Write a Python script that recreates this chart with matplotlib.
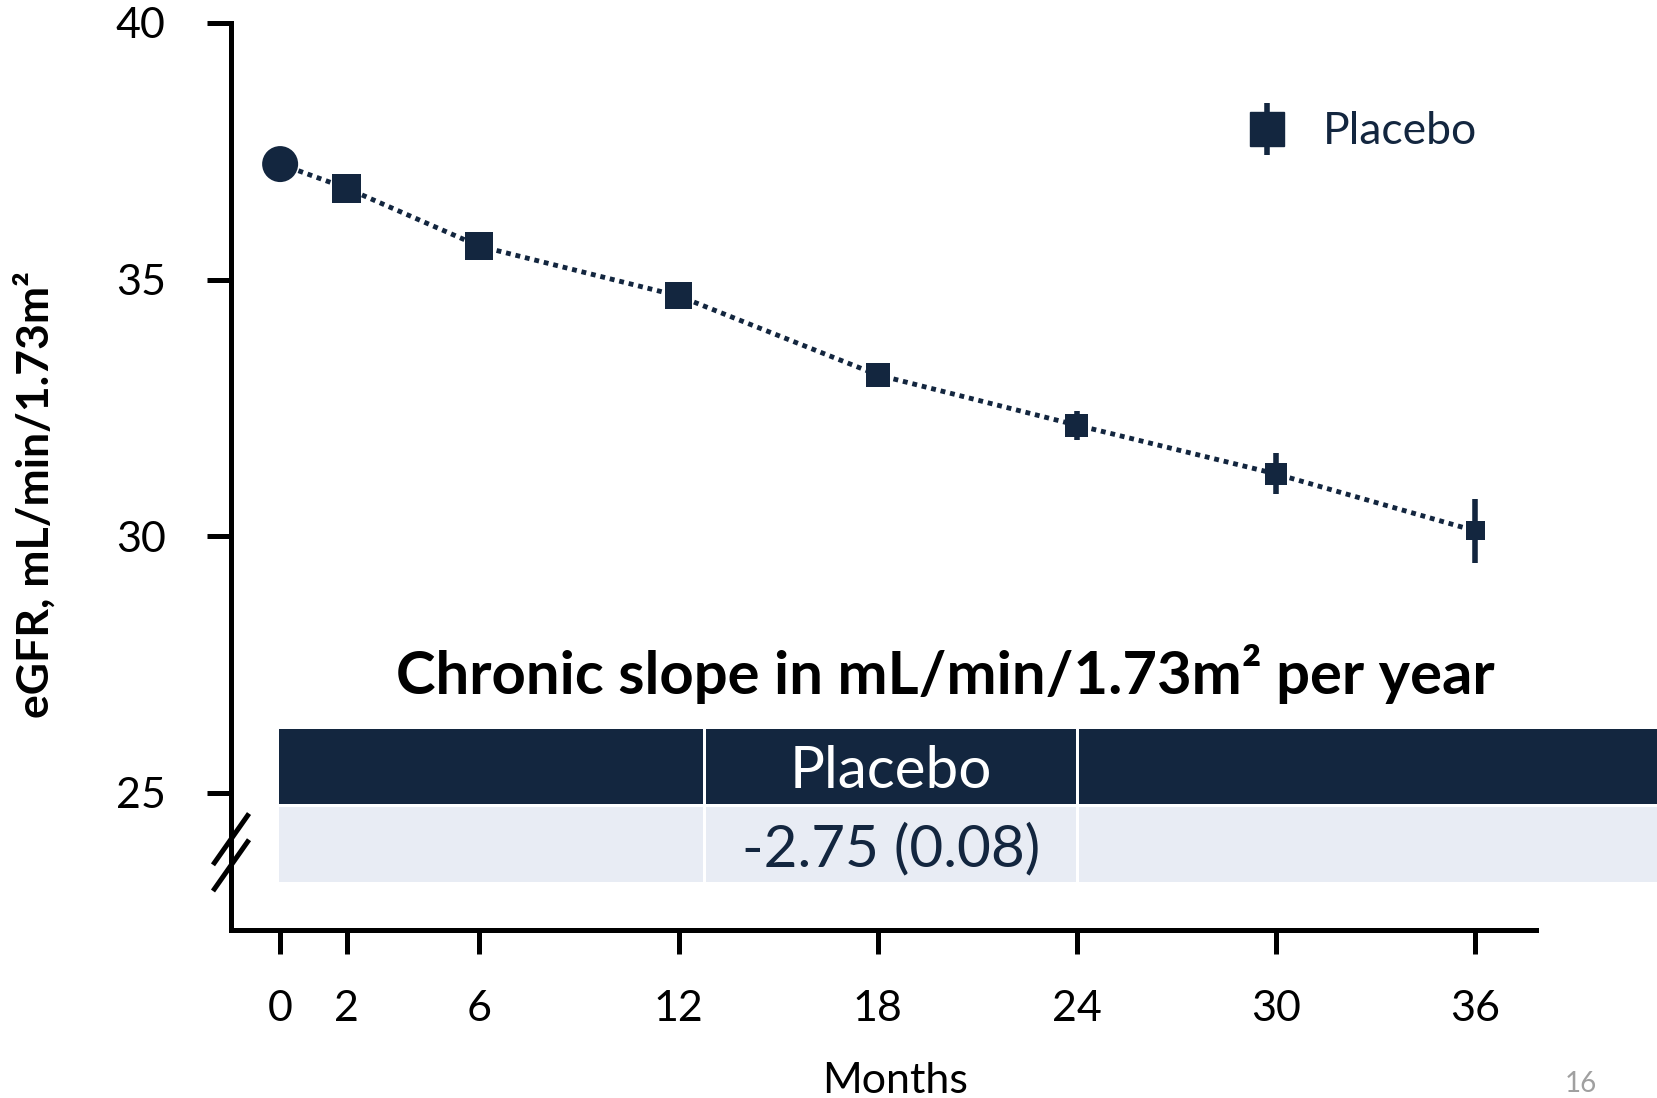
import matplotlib
matplotlib.use("Agg")
import matplotlib.pyplot as plt
from matplotlib.lines import Line2D
from matplotlib.patches import Rectangle
import matplotlib.transforms as mtransforms

plt.rcParams['font.family'] = ['Lato', 'DejaVu Sans']

# data
months = [0, 2, 6, 12, 18, 24, 30, 36]
egfr = [37.25, 36.78, 35.65, 34.68, 33.14, 32.16, 31.21, 30.10]
sem = [0.0, 0.08, 0.08, 0.10, 0.15, 0.28, 0.40, 0.63]
month_ticks = [0, 2, 6, 12, 18, 24, 30, 36]
egfr_ticks = [25, 30, 35, 40]
table_header = ["", "Placebo", ""]
table_values = ["", "-2.75 (0.08)", ""]

navy = '#13263f'
light = '#e8ecf4'
marker_px = [36, 29, 28, 27, 24, 23, 22, 19]   # style: marker size in pixels
marker_shape = ['o', 's', 's', 's', 's', 's', 's', 's']

fig = plt.figure(figsize=(16.58, 10.98), dpi=100)
ax = fig.add_axes([231 / 1658, 1 - 930 / 1098, (1536 - 231) / 1658, (930 - 23) / 1098])

ax.plot(months, egfr, color=navy, lw=3.5, linestyle=(0, (1, 1)), zorder=2)
ax.errorbar(months, egfr, yerr=sem, fmt='none', ecolor=navy, elinewidth=4, capsize=0, zorder=3)
for x, y, m, px in zip(months, egfr, marker_shape, marker_px):
    ax.scatter([x], [y], marker=m, s=(px * 0.72) ** 2, color=navy, edgecolors='none', zorder=4)

ax.set_xlim(-1.48, 37.83)
ax.set_ylim(22.32, 40)
ax.set_xticks(month_ticks)
ax.set_yticks(egfr_ticks)
ax.tick_params(axis='both', width=3.6, length=17, labelsize=31, color='black')
ax.tick_params(axis='y', pad=30)
ax.tick_params(axis='x', pad=26)
for s in ['top', 'right']:
    ax.spines[s].set_visible(False)
for s in ['left', 'bottom']:
    ax.spines[s].set_linewidth(3.6)

ax.set_xlabel("Months", fontsize=31)
ax.xaxis.set_label_coords(0.5 + 12 / 1305, -0.145)
ax.set_ylabel("eGFR, mL/min/1.73m²", fontsize=32, fontweight='bold')
ax.yaxis.set_label_coords(-0.134, 0.48)

# axis break marks
trans = mtransforms.blended_transform_factory(ax.transAxes, ax.transData)
for y0 in [23.59, 23.08]:
    ax.plot([-0.0138, 0.0138], [y0, y0 + 1.0], transform=trans, color='black',
            lw=3.6, clip_on=False, solid_capstyle='butt')

# legend
h_bar = Line2D([], [], color=navy, marker='|', markersize=38, markeredgewidth=4, linestyle='none')
h_sq = Line2D([], [], color=navy, marker='s', markersize=25, linestyle='none')
leg = ax.legend([(h_bar, h_sq)], ["Placebo"], loc='center left', frameon=False,
                bbox_to_anchor=(1205 / 1658, 1 - 132 / 1098), bbox_transform=fig.transFigure,
                fontsize=32, handlelength=1.0, handletextpad=0.75)
for t in leg.get_texts():
    t.set_color(navy)

# title of the inset table
fig.text(945 / 1658, 1 - 674 / 1098, "Chronic slope in mL/min/1.73m² per year",
         ha='center', va='center', fontsize=43, fontweight='bold', color='black')

# table
col_edges = [279, 706, 1079, 1661]
rows = [(729, 804, navy, 'white', table_header), (807, 882, light, navy, table_values)]
for top, bot, fc, tc, labels in rows:
    for i in range(3):
        x0, x1 = col_edges[i], col_edges[i + 1] - 3
        fig.patches.append(Rectangle((x0 / 1658, 1 - bot / 1098), (x1 - x0) / 1658, (bot - top) / 1098,
                                     transform=fig.transFigure, facecolor=fc, edgecolor='none'))
        if labels[i]:
            fig.text((x0 + x1) / 2 / 1658, 1 - ((top + bot) / 2 + 5) / 1098, labels[i],
                     ha='center', va='center', fontsize=42, color=tc)

fig.text(1581 / 1658, 1 - 1084 / 1098, "16", ha='center', va='center', fontsize=20, color='#a0a0a0')

fig.savefig("out.png", dpi=100)
